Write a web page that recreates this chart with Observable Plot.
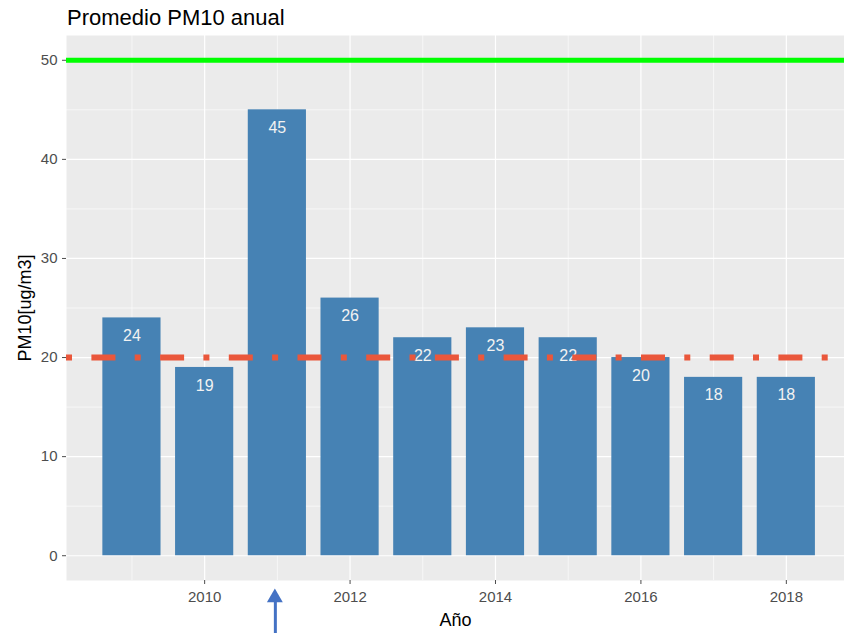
<!DOCTYPE html>
<html><head><meta charset="utf-8">
<script src="https://cdn.jsdelivr.net/npm/d3@7"></script>
<script src="https://cdn.jsdelivr.net/npm/@observablehq/plot@0.6"></script>
<style>
html,body{margin:0;padding:0;background:#fff;overflow:hidden;}
#title{font-family:"Liberation Sans",Arial,sans-serif;font-size:22px;height:35px;line-height:35px;padding-left:67px;color:#000;white-space:nowrap;}
</style></head><body>
<div id="title">Promedio PM10 anual</div>
<div id="chart"></div>
<script>
const years = [2009, 2010, 2011, 2012, 2013, 2014, 2015, 2016, 2017, 2018];
const pm10 = [24, 19, 45, 26, 22, 23, 22, 20, 18, 18];
const yTicks = [0, 10, 20, 30, 40, 50];
const yMinor = [5, 15, 25, 35, 45];
const xTicks = [2010, 2012, 2014, 2016, 2018];
const xMinor = [2009, 2011, 2013, 2015, 2017];
const limitLine = [50];
const guideLine = [20];
const arrowYear = [2011];
const yLabel = "PM10[ug/m3]";
const xLabel = "Año";

const data = years.map((y, i) => ({year: y, value: pm10[i]}));
const font = '"Liberation Sans", Arial, sans-serif';

const chart = Plot.plot({
  width: 844,
  height: 598,
  marginTop: 0,
  marginBottom: 53,
  marginLeft: 66,
  marginRight: 0,
  style: {fontFamily: font, background: "transparent", overflow: "visible"},
  x: {domain: [2008.1, 2018.8]},
  y: {domain: [-2.5, 52.5]},
  marks: [
    Plot.frame({fill: "#EBEBEB", stroke: null}),
    Plot.gridY(yMinor, {stroke: "white", strokeOpacity: 1, strokeWidth: 0.6}),
    Plot.gridY(yTicks, {stroke: "white", strokeOpacity: 1, strokeWidth: 1.2}),
    Plot.gridX(xMinor, {stroke: "white", strokeOpacity: 1, strokeWidth: 0.6}),
    Plot.gridX(xTicks, {stroke: "white", strokeOpacity: 1, strokeWidth: 1.2}),
    Plot.axisY(yTicks, {tickSize: 4, tickPadding: 5, fontSize: 15, color: "#4D4D4D", label: null}),
    Plot.axisX(xTicks, {tickSize: 4, tickPadding: 7, fontSize: 15, color: "#4D4D4D", label: null, tickFormat: d => String(d)}),
    Plot.rectY(data, {x1: d => d.year - 0.4, x2: d => d.year + 0.4, y1: 0, y2: "value", fill: "#4682B4"}),
    Plot.text(data, {x: "year", y: "value", text: d => String(d.value), dy: 18, lineAnchor: "middle", fill: "#F2F2F2", fontSize: 16}),
    Plot.ruleY(limitLine, {stroke: "#00FF00", strokeWidth: 5}),
    Plot.ruleY(guideLine, {stroke: "#EA573B", strokeWidth: 6, strokeDasharray: "6,19.4,24,19.3"}),
    Plot.text([yLabel], {frameAnchor: "left", textAnchor: "middle", dx: -41, rotate: -90, fontSize: 18, fill: "#000", lineAnchor: "middle"}),
    Plot.text([xLabel], {frameAnchor: "bottom", textAnchor: "middle", dy: 40, fontSize: 18, fill: "#000", lineAnchor: "middle"}),
    Plot.link(arrowYear, {x1: d => d, x2: d => d, y1: -7.9, y2: -4.6, stroke: "#4472C4", strokeWidth: 3, dx: -2}),
    Plot.dot(arrowYear, {x: d => d, frameAnchor: "bottom", dy: 17.2, dx: -2.5, symbol: "triangle", r: 5.9, fill: "#4472C4", stroke: null})
  ]
});
document.getElementById("chart").appendChild(chart);
</script>
</body></html>
